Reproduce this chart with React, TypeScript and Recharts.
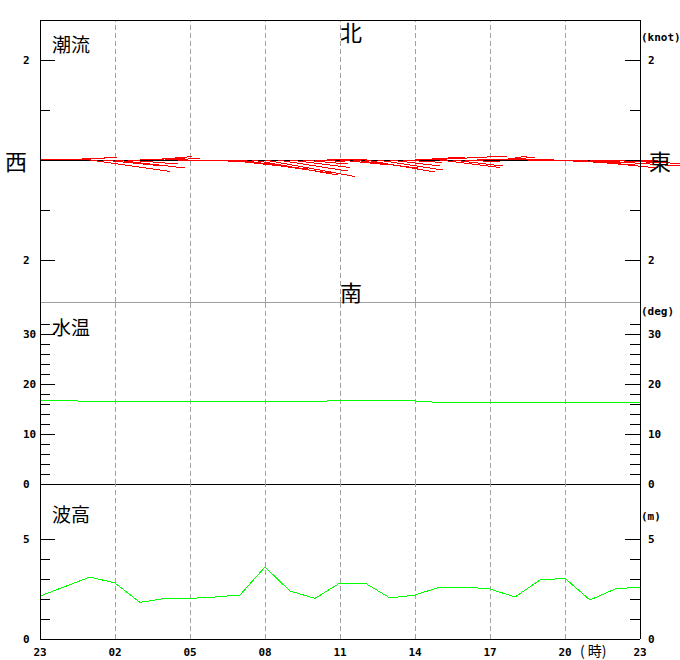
import React from 'react';
import { ComposedChart, Line, XAxis, YAxis, ReferenceLine } from 'recharts';

// ---- data ----
const hours = [0, 1, 2, 3, 4, 5, 6, 7, 8, 9, 10, 11, 12, 13, 14, 15, 16, 17, 18, 19, 20, 21, 22, 23, 24];
const hourTicks = [0, 3, 6, 9, 12, 15, 18, 21, 24];
const hourLabels = ['23', '02', '05', '08', '11', '14', '17', '20', '23'];
const gridHours = [3, 6, 9, 12, 15, 18, 21];

const waveHeight = [2.15, 2.62, 3.1, 2.8, 1.83, 2.03, 2.03, 2.1, 2.2, 3.6, 2.4, 2.03, 2.8, 2.8, 2.05, 2.2, 2.6, 2.6, 2.5, 2.1, 2.95, 3.03, 1.95, 2.5, 2.6];
const waterTemp = [16.7, 16.7, 16.5, 16.5, 16.5, 16.5, 16.5, 16.5, 16.5, 16.5, 16.5, 16.5, 16.7, 16.7, 16.7, 16.6, 16.3, 16.3, 16.3, 16.3, 16.3, 16.3, 16.3, 16.3, 16.3];

const currentTimes = [0, 0.5, 1, 1.5, 2, 2.5, 3, 3.5, 4, 4.5, 5, 5.5, 6, 6.5, 7, 7.5, 8, 8.5, 9, 9.5, 10, 10.5, 11, 11.5, 12, 12.5, 13, 13.5, 14, 14.5, 15, 15.5, 16, 16.5, 17, 17.5, 18, 18.5, 19, 19.5, 20, 20.5, 21, 21.5, 22, 22.5, 23, 23.5, 24];
const currentEast = [0.6, 0.9, 1.0, 0.8, 1.6, 1.2, 1.4, 1.0, 0.9, 0.8, 0.7, 0.9, 1.1, 1.0, 1.2, 1.6, 1.8, 1.7, 1.8, 1.4, 1.2, 0.9, 0.6, 0.8, 1.0, 1.3, 1.4, 1.3, 1.0, 0.8, 1.0, 1.6, 1.2, 1.0, 0.7, 0.8, 0.9, 0.5, 0.8, 1.0, 1.3, 1.6, 1.4, 1.6, 1.8, 1.3, 1.0, 0.6, 0.8];
const currentNorth = [0.02, 0.03, 0.05, 0.06, -0.23, -0.12, -0.16, -0.08, 0.04, 0.07, 0.03, 0.0, -0.02, -0.04, -0.08, -0.18, -0.26, -0.3, -0.33, -0.22, -0.15, -0.08, -0.03, 0.02, -0.1, -0.16, -0.24, -0.2, -0.12, -0.05, 0.06, 0.08, -0.15, -0.12, -0.04, 0.02, 0.05, 0.08, 0.02, 0.0, -0.04, -0.06, -0.1, -0.16, -0.12, -0.06, -0.04, -0.02, -0.08];

const currentTicks = [-2, -1, 0, 1, 2];
const currentMajor = [-2, 0, 2];
const tempTicks = [0, 2, 4, 6, 8, 10, 12, 14, 16, 18, 20, 22, 24, 26, 28, 30, 32];
const tempMajor = [0, 10, 20, 30];
const waveTicks = [0, 1, 2, 3, 4, 5];
const waveMajor = [0, 5];

// ---- layout / style ----
const W = 680;
const AXIS_W = 40;
const PLOT_W = 600;
const CUR_DOMAIN: [number, number] = [-2.84, 2.8];
const CUR_H = 282;
const TEMP_DOMAIN: [number, number] = [0, 36.4];
const WAVE_DOMAIN: [number, number] = [0, 7.75];
const X_DOMAIN: [number, number] = [0, 24];
// hours per knot so sticks have equal px scale on both axes
const HOURS_PER_KNOT = (CUR_H / (CUR_DOMAIN[1] - CUR_DOMAIN[0])) / (PLOT_W / (X_DOMAIN[1] - X_DOMAIN[0]));

const MONO = '"DejaVu Sans Mono", monospace';
const CJK = '"Noto Sans CJK JP", sans-serif';
const GRID = '#a0a0a0';
const GREEN = '#00ff00';

const waveRows = hours.map((h, i) => ({ h, v: waveHeight[i] }));
const tempRows = hours.map((h, i) => ({ h, t: waterTemp[i] }));
const stickRows = currentTimes.map((t, i) => ({ h: t, u: currentEast[i], v: currentNorth[i] }));

const makeYTick = (side: 'left' | 'right', major: number[], fmt: (v: number) => string | null) => (props: any) => {
  const { x, y, payload } = props;
  const v = payload.value;
  const len = major.includes(v) || v % 10 === 0 ? 15 : 10;
  const dir = side === 'left' ? 1 : -1;
  const label = fmt(v);
  return (
    <g>
      <line x1={x} y1={y} x2={x + dir * len} y2={y} stroke="#000" strokeWidth={1} />
      {label !== null && (
        <text x={side === 'left' ? x - 17 : x + 8} y={y} textAnchor="start" dominantBaseline="central"
          fontFamily={MONO} fontWeight="bold" fontSize={11} fill="#000">{label}</text>
      )}
    </g>
  );
};

const curFmt = (v: number) => (Math.abs(v) === 2 ? String(Math.abs(v)) : null);
const tempFmt = (v: number) => (v % 10 === 0 ? String(v) : null);
const waveFmt = (v: number) => (v === 0 || v === 5 ? String(v) : null);

const XTick = (props: any) => {
  const { x, y, payload, index } = props;
  return (
    <text x={x} y={y + 13} textAnchor="middle" dominantBaseline="central" fontFamily={MONO}
      fontWeight="bold" fontSize={11} fill="#000">{hourLabels[index] ?? String(payload.value)}</text>
  );
};

const yAxes = (domain: [number, number], ticks: number[], major: number[], fmt: (v: number) => string | null) => [
  <YAxis key="l" yAxisId="l" orientation="left" width={AXIS_W} type="number" domain={domain} allowDataOverflow
    ticks={ticks} interval={0} tickSize={0} tickMargin={0} tickLine={false}
    axisLine={{ stroke: '#000' }} tick={makeYTick('left', major, fmt)} />,
  <YAxis key="r" yAxisId="r" orientation="right" width={AXIS_W} type="number" domain={domain} allowDataOverflow
    ticks={ticks} interval={0} tickSize={0} tickMargin={0} tickLine={false}
    axisLine={{ stroke: '#000' }} tick={makeYTick('right', major, fmt)} />,
];

const gridLines = () =>
  gridHours.map((h) => (
    <ReferenceLine key={'g' + h} yAxisId="l" x={h} stroke={GRID} strokeDasharray="5 3" ifOverflow="visible" />
  ));

export default function App() {
  return (
    <div style={{ position: 'relative', width: W, height: 660, background: '#fff' }}>
      <style>{`body{margin:0} .recharts-wrapper line, .recharts-wrapper path { shape-rendering: crispEdges; }`}</style>

      {/* 潮流 panel */}
      <div style={{ position: 'absolute', left: 0, top: 0 }}>
        <ComposedChart width={W} height={310} data={stickRows} margin={{ top: 20, right: 0, bottom: 8, left: 0 }}>
          <XAxis dataKey="h" type="number" domain={X_DOMAIN} hide allowDataOverflow />
          {yAxes(CUR_DOMAIN, currentTicks, currentMajor, curFmt)}
          {gridLines()}
          <ReferenceLine yAxisId="l" y={CUR_DOMAIN[1]} stroke="#000" ifOverflow="visible" />
          <ReferenceLine yAxisId="l" y={CUR_DOMAIN[0]} stroke={GRID} ifOverflow="visible" />
          <ReferenceLine yAxisId="l" y={0} stroke="#000" ifOverflow="visible" />
          {stickRows.map((s, i) => (
            <ReferenceLine key={'s' + i} yAxisId="l" ifOverflow="visible" stroke="#ff0000" strokeWidth={1}
              segment={[{ x: s.h, y: 0 }, { x: s.h + s.u * HOURS_PER_KNOT, y: s.v }]} />
          ))}
        </ComposedChart>
      </div>

      {/* 水温 panel */}
      <div style={{ position: 'absolute', left: 0, top: 296 }}>
        <ComposedChart width={W} height={196} data={tempRows} margin={{ top: 6, right: 0, bottom: 8, left: 0 }}>
          <XAxis dataKey="h" type="number" domain={X_DOMAIN} hide allowDataOverflow />
          {yAxes(TEMP_DOMAIN, tempTicks, tempMajor, tempFmt)}
          {gridLines()}
          <ReferenceLine yAxisId="l" y={0} stroke="#000" ifOverflow="visible" />
          <Line yAxisId="l" dataKey="t" type="linear" stroke={GREEN} strokeWidth={1} dot={false} isAnimationActive={false} />
        </ComposedChart>
      </div>

      {/* 波高 panel */}
      <div style={{ position: 'absolute', left: 0, top: 478 }}>
        <ComposedChart width={W} height={182} data={waveRows} margin={{ top: 6, right: 0, bottom: 0, left: 0 }}>
          <XAxis dataKey="h" type="number" domain={X_DOMAIN} allowDataOverflow ticks={hourTicks} interval={0}
            height={21} tickSize={0} tickMargin={0} tickLine={false} axisLine={{ stroke: '#000' }} tick={<XTick />} />
          {yAxes(WAVE_DOMAIN, waveTicks, waveMajor, waveFmt)}
          {gridLines()}
          <Line yAxisId="l" dataKey="v" type="linear" stroke={GREEN} strokeWidth={1} dot={false} isAnimationActive={false} />
        </ComposedChart>
      </div>

      {/* text overlay */}
      <svg width={W} height={660} style={{ position: 'absolute', left: 0, top: 0, pointerEvents: 'none' }}>
        <g fontFamily={CJK} fill="#000">
          <text x={52} y={43} fontSize={19} dominantBaseline="central">潮流</text>
          <text x={52} y={326} fontSize={19} dominantBaseline="central">水温</text>
          <text x={52} y={513} fontSize={19} dominantBaseline="central">波高</text>
          <text x={351} y={31} fontSize={22} textAnchor="middle" dominantBaseline="central">北</text>
          <text x={351} y={291} fontSize={22} textAnchor="middle" dominantBaseline="central">南</text>
          <text x={16} y={160} fontSize={22} textAnchor="middle" dominantBaseline="central">西</text>
          <text x={660} y={160} fontSize={22} textAnchor="middle" dominantBaseline="central">東</text>
          <text x={580} y={650} fontSize={14} dominantBaseline="central">( 時)</text>
        </g>
        <g fontFamily={MONO} fontWeight="bold" fontSize={11} fill="#000">
          <text x={641} y={37} dominantBaseline="central">(knot)</text>
          <text x={641} y={311} dominantBaseline="central">(deg)</text>
          <text x={641} y={516} dominantBaseline="central">(m)</text>
        </g>
      </svg>
    </div>
  );
}
